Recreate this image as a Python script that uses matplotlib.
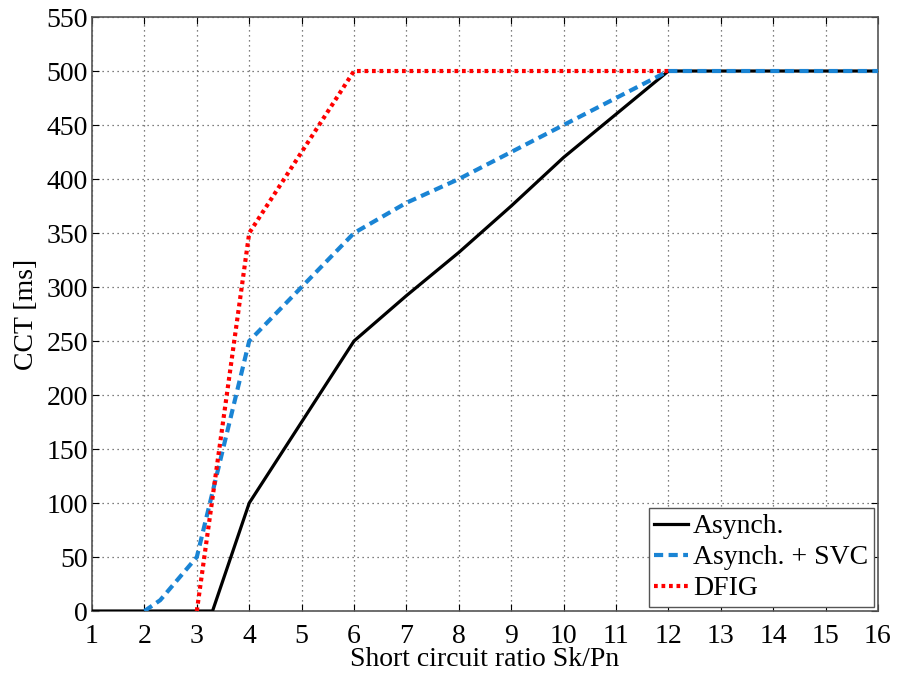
import matplotlib
matplotlib.use("Agg")
import matplotlib.pyplot as plt

x_async = [1, 3.3, 4, 6, 7, 8, 9, 10, 11, 12, 16]
y_async = [0, 0, 100, 250, 292, 332, 375, 420, 460, 500, 500]

x_svc = [2, 2.3, 3, 4, 5, 6, 7, 8, 9, 10, 11, 12, 16]
y_svc = [0, 10, 50, 250, 300, 350, 378, 400, 425, 450, 475, 500, 500]

x_dfig = [3, 4, 6, 12]
y_dfig = [0, 350, 500, 500]

xticks = list(range(1, 17))
yticks = list(range(0, 551, 50))

plt.rcParams['font.family'] = ['Liberation Serif', 'DejaVu Serif']
fig = plt.figure(figsize=(8.97, 6.73), dpi=100)
ax = fig.add_axes([0.1026, 0.0921, 0.8762, 0.8826])

ax.plot(x_async, y_async, color='black', lw=2.3, label='Asynch.', zorder=3)
ax.plot(x_svc, y_svc, color='#1a84d4', lw=3, ls=(0, (2.2, 1.3)), label='Asynch. + SVC', zorder=3)
ax.plot(x_dfig, y_dfig, color='#ff0000', lw=3, ls=(0, (0.9, 0.9)), label='DFIG', zorder=3)

ax.set_xlim(1, 16)
ax.set_ylim(0, 550)
ax.set_xticks(xticks)
ax.set_yticks(yticks)
ax.tick_params(direction='in', top=True, right=True, labelsize=20, length=5)
ax.tick_params(axis='x', pad=9)
ax.tick_params(axis='y', pad=3)
ax.grid(True, color='#555555', ls=(0, (1, 3)), lw=0.9)
for s in ax.spines.values():
    s.set_color('#555555')
    s.set_linewidth(1.2)
ax.set_xlabel('Short circuit ratio Sk/Pn', fontsize=20, labelpad=-1)
ax.set_ylabel('CCT [ms]', fontsize=20, labelpad=5)

leg = ax.legend(loc='lower right', fontsize=20, fancybox=False, framealpha=1,
                edgecolor='#555555', handlelength=1.2, handletextpad=0.2,
                borderpad=0.2, labelspacing=0.2, borderaxespad=0.15)
leg.get_frame().set_linewidth(1.0)

fig.savefig('out.png', dpi=100)
